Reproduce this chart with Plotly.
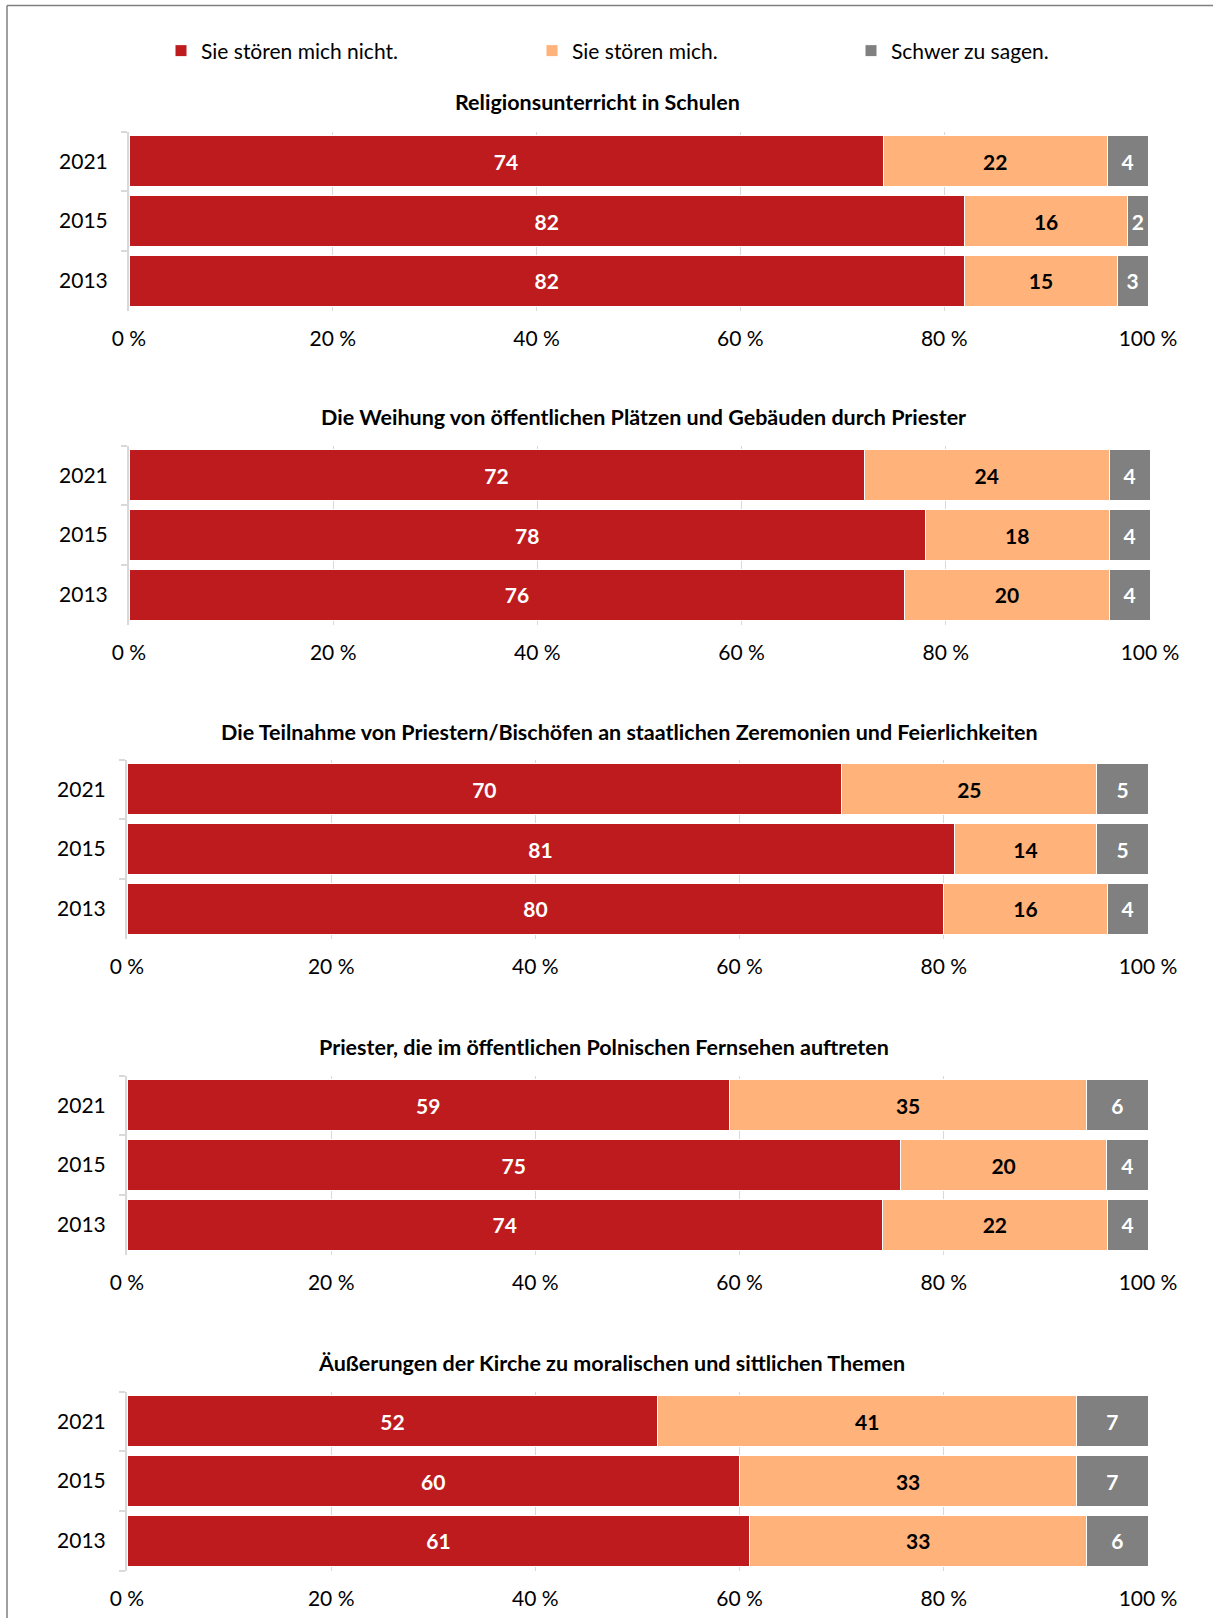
import plotly.graph_objects as go

# ---------------- data ----------------
years = ["2021", "2015", "2013"]
year_order = ["2013", "2015", "2021"]  # bottom -> top
series_names = ["Sie stören mich nicht.", "Sie stören mich.", "Schwer zu sagen."]
topics = [
    "Religionsunterricht in Schulen",
    "Die Weihung von öffentlichen Plätzen und Gebäuden durch Priester",
    "Die Teilnahme von Priestern/Bischöfen an staatlichen Zeremonien und Feierlichkeiten",
    "Priester, die im öffentlichen Polnischen Fernsehen auftreten",
    "Äußerungen der Kirche zu moralischen und sittlichen Themen",
]
stoeren_nicht = [[74, 82, 82], [72, 78, 76], [70, 81, 80], [59, 75, 74], [52, 60, 61]]
stoeren_mich = [[22, 16, 15], [24, 18, 20], [25, 14, 16], [35, 20, 22], [41, 33, 33]]
schwer = [[4, 2, 3], [4, 4, 4], [5, 5, 4], [6, 4, 4], [7, 7, 6]]
tick_vals = [0, 20, 40, 60, 80, 100]
tick_text = ["0 %", "20 %", "40 %", "60 %", "80 %", "100 %"]

# ---------------- style ----------------
W, H = 1213, 1618
colors = ["#BE1B1E", "#FFB27A", "#808080"]
text_colors = ["#FFFFFF", "#000000", "#FFFFFF"]
FONT = "Lato"
FS = 21
FS_TITLE = 21.5

panel_top = [131.5, 445.5, 759.5, 1075.5, 1391.5]
panel_h = 179
panel_x = [(129, 1148), (129, 1150), (127, 1148), (127, 1148), (127, 1148)]
title_y = [102, 417, 732, 1047, 1363]
title_x = [597, 643, 629, 604, 611]
legend_x = [161, 532, 851]
legend_names = ["legend", "legend2", "legend3"]


def px_x(v):
    return v / W


def px_y(v):
    return 1 - v / H


fig = go.Figure()
all_series = [stoeren_nicht, stoeren_mich, schwer]
for p in range(5):
    ax = "" if p == 0 else str(p + 1)
    for s in range(3):
        vals = all_series[s][p]
        fig.add_trace(go.Bar(
            y=years, x=vals, orientation="h",
            name=series_names[s],
            marker=dict(color=colors[s], line=dict(color="#FFFFFF", width=1)),
            text=[str(v) for v in vals], textposition="inside",
            insidetextanchor="middle", textangle=0, constraintext="none",
            insidetextfont=dict(family=FONT, size=FS, color=text_colors[s], weight="bold"),
            xaxis="x" + ax, yaxis="y" + ax,
            showlegend=(p == 0), legend=legend_names[s],
            hoverinfo="skip",
        ))

layout = dict(
    width=W, height=H, margin=dict(l=0, r=0, t=0, b=0, pad=0, autoexpand=False),
    paper_bgcolor="#FFFFFF", plot_bgcolor="#FFFFFF",
    barmode="stack", barnorm="percent", bargap=0.15,
    font=dict(family=FONT, size=FS, color="#000000"),
    uniformtext=dict(minsize=FS, mode="show"),
)
for p in range(5):
    ax = "" if p == 0 else str(p + 1)
    top = panel_top[p]
    bot = top + panel_h
    x0, x1 = panel_x[p]
    layout["xaxis" + ax] = dict(
        domain=[px_x(x0), px_x(x1)], range=[0, 100], anchor="y" + ax,
        tickvals=tick_vals, ticktext=tick_text, showgrid=True,
        gridcolor="#D9D9D9", gridwidth=1, zeroline=False, showline=False,
        ticks="", ticklabelstandoff=13, automargin=False,
        tickfont=dict(family=FONT, size=FS, color="#000000"), fixedrange=True,
    )
    layout["yaxis" + ax] = dict(
        domain=[px_y(bot), px_y(top)], anchor="x" + ax, type="category",
        categoryorder="array", categoryarray=year_order,
        showline=True, linecolor="#D9D9D9", linewidth=2,
        ticks="outside", tickson="boundaries", ticklen=6, tickwidth=2,
        tickcolor="#D9D9D9", ticklabelstandoff=15, showgrid=False, automargin=False,
        tickfont=dict(family=FONT, size=FS, color="#000000"), fixedrange=True,
    )

for i, ln in enumerate(legend_names):
    layout[ln] = dict(
        x=px_x(legend_x[i]), y=px_y(51), xanchor="left", yanchor="middle",
        orientation="h", bgcolor="rgba(0,0,0,0)", borderwidth=0,
        font=dict(family=FONT, size=FS, color="#000000"),
        itemclick=False, itemdoubleclick=False,
    )

annotations = []
for p in range(5):
    annotations.append(dict(
        text=topics[p], xref="paper", yref="paper",
        x=px_x(title_x[p]), y=px_y(title_y[p]), xanchor="center", yanchor="middle",
        showarrow=False, font=dict(family=FONT, size=FS_TITLE, color="#000000", weight="bold"),
    ))
layout["annotations"] = annotations

layout["shapes"] = [
    dict(type="line", xref="paper", yref="paper", x0=px_x(7), x1=px_x(1213),
         y0=px_y(5.5), y1=px_y(5.5), line=dict(color="#7F7F7F", width=1.5)),
    dict(type="line", xref="paper", yref="paper", x0=px_x(7), x1=px_x(7),
         y0=px_y(5.5), y1=px_y(1618), line=dict(color="#7F7F7F", width=1.5)),
]

fig.update_layout(**layout)
fig.write_html("out.html", config={"displayModeBar": False},
               post_script="document.body.style.margin='0';document.body.style.overflow='hidden';")
